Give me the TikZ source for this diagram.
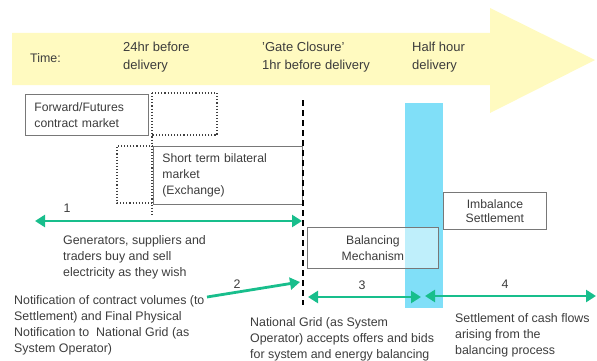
\documentclass[tikz,border=0pt]{standalone}
\usepackage{fontspec}
\setmainfont{Liberation Sans}
\usetikzlibrary{arrows.meta}
\definecolor{bandyellow}{RGB}{255,250,192}
\definecolor{barcyan}{RGB}{128,223,248}
\definecolor{arrgreen}{RGB}{24,190,140}
\definecolor{txtgray}{RGB}{60,60,60}
\definecolor{boxgray}{RGB}{120,120,120}
\begin{document}
\begin{tikzpicture}[x=1pt,y=-1pt,
  txt/.style={font=\fontsize{12.4}{16}\selectfont, text=txtgray, inner sep=0pt, align=left, anchor=north west},
  toptxt/.style={txt, font=\fontsize{13}{18}\selectfont},
  numlbl/.style={font=\fontsize{12.4}{14}\selectfont, text=txtgray, inner sep=0pt},
  mbox/.style={draw=boxgray, line width=0.8pt, font=\fontsize{12.2}{16}\selectfont, text=txtgray, anchor=north west, inner ysep=0pt},
  garrow/.style={draw=arrgreen, line width=2.8pt, arrows={-Triangle[length=10pt,width=12pt]}},
  gdarrow/.style={draw=arrgreen, line width=2.8pt, arrows={Triangle[length=10pt,width=12pt]-Triangle[length=10pt,width=12pt]}},
  dotline/.style={draw=black!75, line width=1.1pt, dotted},
  gateline/.style={draw=black, line width=1.8pt, dash pattern=on 6pt off 4pt}
]
\useasboundingbox (0,0) rectangle (597,361);
% big time arrow
\fill[bandyellow] (12,33) -- (490,33) -- (490,8) -- (595,60) -- (490,113) -- (490,85) -- (12,85) -- cycle;
\node[txt, anchor=west, font=\fontsize{12.4}{16}\selectfont] (time) at (30,58) {Time:};
\node[toptxt] (t24) at (123,42) {24hr before\\delivery};
\node[toptxt] (tgate) at (262,42) {'Gate Closure'\\1hr before delivery};
\node[toptxt] (thalf) at (412,42) {Half hour\\delivery};
% cyan delivery bar
\fill[barcyan] (405,103) rectangle (443,308);
% markets
\node[mbox, minimum width=123pt, minimum height=41pt, text width=105pt, inner xsep=9pt, align=left] (fwd) at (25,94) {Forward/Futures\\contract market};
\draw[dotline] (152,93) -- (217,93) -- (217,135) -- (152,135);
\draw[dotline] (152,93) -- (152,216);
\draw[dotline] (153,146) -- (117,146) -- (117,203) -- (153,203);
\node[mbox, minimum width=149pt, minimum height=58pt, text width=131pt, inner xsep=9pt, align=left] (short) at (153,146) {Short term bilateral\\market\\(Exchange)};
% gate closure line
\coordinate (gtop) at (303,100);
\coordinate (gbot) at (303,305);
\draw[gateline] (gtop) -- (gbot);
% balancing and imbalance
\node[mbox, fill=white, fill opacity=0.5, text opacity=1, minimum width=131pt, minimum height=41pt, align=center] (bm) at (307,227) {Balancing\\Mechanism};
\node[mbox, fill=white, minimum width=103pt, minimum height=37pt, align=center, font=\fontsize{12.2}{14.5}\selectfont] (imb) at (443,192) {Imbalance\\Settlement};
% arrows
\coordinate (a1l) at (35,221);
\coordinate (a1r) at (302,221);
\draw[gdarrow] (a1l) -- (a1r);
\node[numlbl] (n1) at (67,208) {1};
\node[txt] (gen) at (63,235.5) {Generators, suppliers and\\traders buy and sell\\electricity as they wish};
\coordinate (a2s) at (207,297);
\coordinate (a2e) at (300,282);
\draw[garrow] (a2s) -- (a2e);
\node[numlbl] (n2) at (237,284) {2};
\node[txt] (notif) at (14,295.5) {Notification of contract volumes (to\\Settlement) and Final Physical\\Notification to\ \ National Grid (as\\System Operator)};
\coordinate (a3l) at (308,297);
\coordinate (a3r) at (421,297);
\draw[gdarrow] (a3l) -- (a3r);
\node[numlbl] (n3) at (362,285) {3};
\node[txt] (ng) at (250,317.5) {National Grid (as System\\Operator) accepts offers and bids\\for system and energy balancing};
\coordinate (a4l) at (425,296);
\coordinate (a4r) at (596,296);
\draw[gdarrow] (a4l) -- (a4r);
\node[numlbl] (n4) at (505,284) {4};
\node[txt] (settle) at (455,313.5) {Settlement of cash flows\\arising from the\\balancing process};
\end{tikzpicture}
\end{document}
